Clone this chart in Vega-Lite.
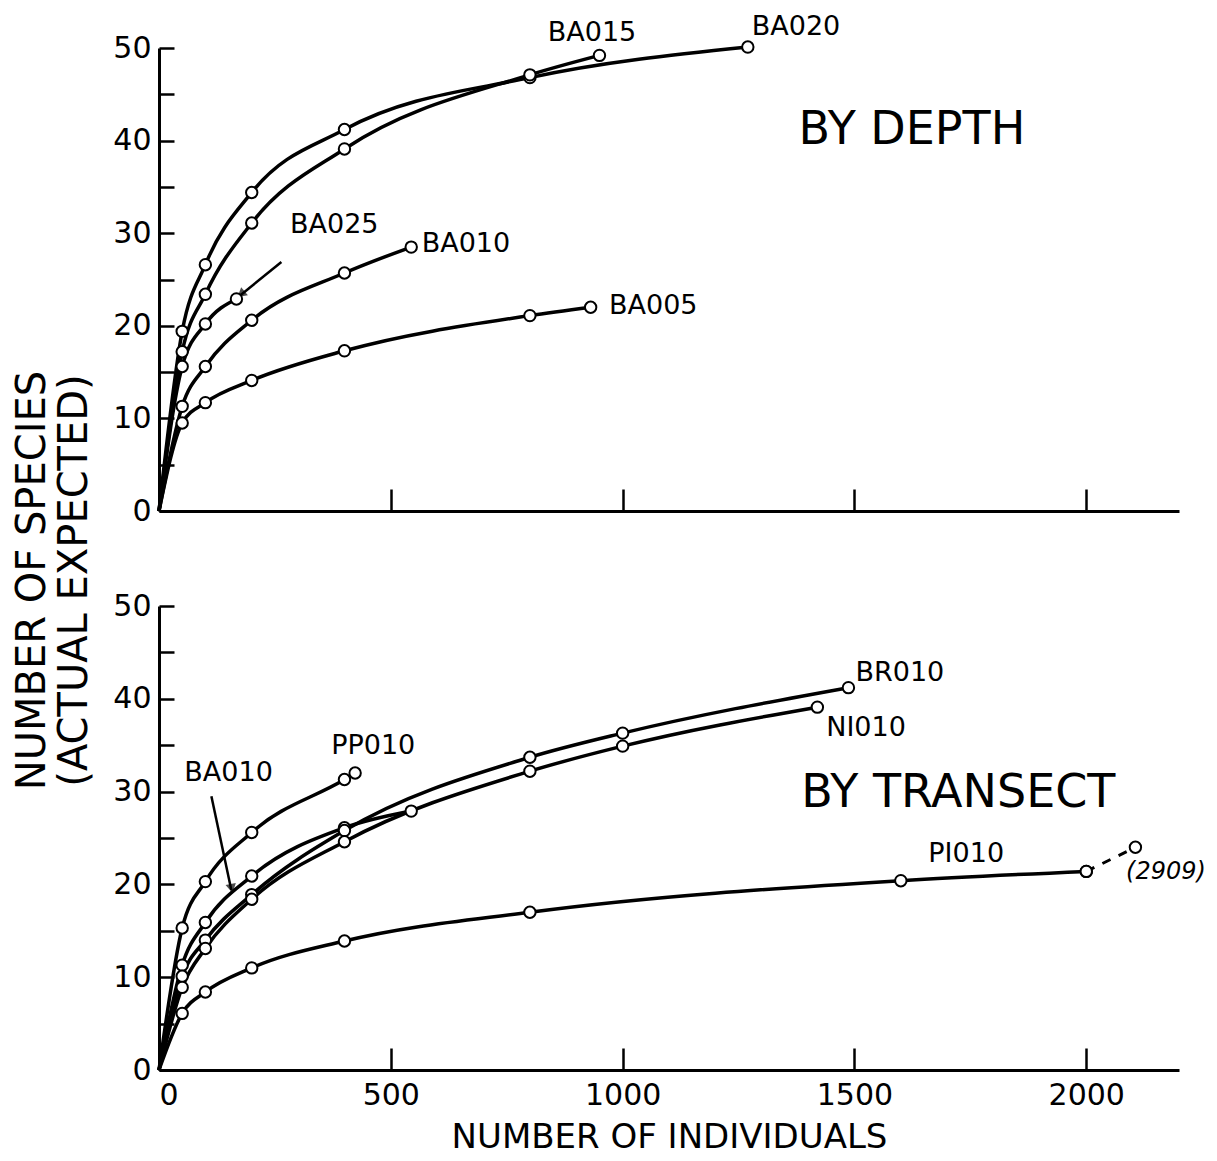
{
  "$schema": "https://vega.github.io/schema/vega-lite/v6.json",
  "background": "white",
  "padding": {"left": 12, "top": 12, "right": 5, "bottom": 3},
  "bounds": "flush",
  "spacing": 95,
  "config": {
    "view": {"stroke": null},
    "font": "DejaVu Sans",
    "axis": {
      "domainColor": "black",
      "domainWidth": 3,
      "tickColor": "black",
      "tickWidth": 2.5,
      "grid": false,
      "labelColor": "black",
      "labelFont": "DejaVu Sans",
      "labelFontSize": 30,
      "titleColor": "black",
      "titleFont": "DejaVu Sans",
      "titleFontWeight": "normal",
      "titleFontSize": 34
    }
  },
  "datasets": {
    "curves": [
      {"panel": "depth", "series": "BA020", "seg": "solid", "x": 0, "y": 0},
      {"panel": "depth", "series": "BA020", "seg": "solid", "x": 50, "y": 19.4},
      {"panel": "depth", "series": "BA020", "seg": "solid", "x": 100, "y": 26.6},
      {"panel": "depth", "series": "BA020", "seg": "solid", "x": 200, "y": 34.4},
      {"panel": "depth", "series": "BA020", "seg": "solid", "x": 400, "y": 41.2},
      {"panel": "depth", "series": "BA020", "seg": "solid", "x": 800, "y": 46.8},
      {"panel": "depth", "series": "BA020", "seg": "solid", "x": 1270, "y": 50.1},
      {"panel": "depth", "series": "BA015", "seg": "solid", "x": 0, "y": 0},
      {"panel": "depth", "series": "BA015", "seg": "solid", "x": 50, "y": 17.2},
      {"panel": "depth", "series": "BA015", "seg": "solid", "x": 100, "y": 23.4},
      {"panel": "depth", "series": "BA015", "seg": "solid", "x": 200, "y": 31.1},
      {"panel": "depth", "series": "BA015", "seg": "solid", "x": 400, "y": 39.1},
      {"panel": "depth", "series": "BA015", "seg": "solid", "x": 800, "y": 47.1},
      {"panel": "depth", "series": "BA015", "seg": "solid", "x": 950, "y": 49.2},
      {"panel": "depth", "series": "BA025", "seg": "solid", "x": 0, "y": 0},
      {"panel": "depth", "series": "BA025", "seg": "solid", "x": 50, "y": 15.6},
      {"panel": "depth", "series": "BA025", "seg": "solid", "x": 100, "y": 20.2},
      {"panel": "depth", "series": "BA025", "seg": "solid", "x": 167, "y": 22.9},
      {"panel": "depth", "series": "BA010", "seg": "solid", "x": 0, "y": 0},
      {"panel": "depth", "series": "BA010", "seg": "solid", "x": 50, "y": 11.3},
      {"panel": "depth", "series": "BA010", "seg": "solid", "x": 100, "y": 15.6},
      {"panel": "depth", "series": "BA010", "seg": "solid", "x": 200, "y": 20.6},
      {"panel": "depth", "series": "BA010", "seg": "solid", "x": 400, "y": 25.7},
      {"panel": "depth", "series": "BA010", "seg": "solid", "x": 544, "y": 28.5},
      {"panel": "depth", "series": "BA005", "seg": "solid", "x": 0, "y": 0},
      {"panel": "depth", "series": "BA005", "seg": "solid", "x": 50, "y": 9.5},
      {"panel": "depth", "series": "BA005", "seg": "solid", "x": 100, "y": 11.7},
      {"panel": "depth", "series": "BA005", "seg": "solid", "x": 200, "y": 14.1},
      {"panel": "depth", "series": "BA005", "seg": "solid", "x": 400, "y": 17.3},
      {"panel": "depth", "series": "BA005", "seg": "solid", "x": 800, "y": 21.1},
      {"panel": "depth", "series": "BA005", "seg": "solid", "x": 931, "y": 22.0},
      {"panel": "transect", "series": "PP010", "seg": "solid", "x": 0, "y": 0},
      {"panel": "transect", "series": "PP010", "seg": "solid", "x": 50, "y": 15.3},
      {"panel": "transect", "series": "PP010", "seg": "solid", "x": 100, "y": 20.3},
      {"panel": "transect", "series": "PP010", "seg": "solid", "x": 200, "y": 25.6},
      {"panel": "transect", "series": "PP010", "seg": "solid", "x": 400, "y": 31.3},
      {"panel": "transect", "series": "PP010", "seg": "solid", "x": 423, "y": 32.0},
      {"panel": "transect", "series": "BA010", "seg": "solid", "x": 0, "y": 0},
      {"panel": "transect", "series": "BA010", "seg": "solid", "x": 50, "y": 11.3},
      {"panel": "transect", "series": "BA010", "seg": "solid", "x": 100, "y": 15.9},
      {"panel": "transect", "series": "BA010", "seg": "solid", "x": 200, "y": 20.9},
      {"panel": "transect", "series": "BA010", "seg": "solid", "x": 400, "y": 26.1},
      {"panel": "transect", "series": "BA010", "seg": "solid", "x": 544, "y": 27.9},
      {"panel": "transect", "series": "BR010", "seg": "solid", "x": 0, "y": 0},
      {"panel": "transect", "series": "BR010", "seg": "solid", "x": 50, "y": 10.1},
      {"panel": "transect", "series": "BR010", "seg": "solid", "x": 100, "y": 14.0},
      {"panel": "transect", "series": "BR010", "seg": "solid", "x": 200, "y": 18.9},
      {"panel": "transect", "series": "BR010", "seg": "solid", "x": 400, "y": 25.8},
      {"panel": "transect", "series": "BR010", "seg": "solid", "x": 800, "y": 33.7},
      {"panel": "transect", "series": "BR010", "seg": "solid", "x": 1000, "y": 36.3},
      {"panel": "transect", "series": "BR010", "seg": "solid", "x": 1487, "y": 41.2},
      {"panel": "transect", "series": "NI010", "seg": "solid", "x": 0, "y": 0},
      {"panel": "transect", "series": "NI010", "seg": "solid", "x": 50, "y": 8.9},
      {"panel": "transect", "series": "NI010", "seg": "solid", "x": 100, "y": 13.1},
      {"panel": "transect", "series": "NI010", "seg": "solid", "x": 200, "y": 18.4},
      {"panel": "transect", "series": "NI010", "seg": "solid", "x": 400, "y": 24.6},
      {"panel": "transect", "series": "NI010", "seg": "solid", "x": 800, "y": 32.2},
      {"panel": "transect", "series": "NI010", "seg": "solid", "x": 1000, "y": 34.9},
      {"panel": "transect", "series": "NI010", "seg": "solid", "x": 1420, "y": 39.1},
      {"panel": "transect", "series": "PI010", "seg": "solid", "x": 0, "y": 0},
      {"panel": "transect", "series": "PI010", "seg": "solid", "x": 50, "y": 6.1},
      {"panel": "transect", "series": "PI010", "seg": "solid", "x": 100, "y": 8.4},
      {"panel": "transect", "series": "PI010", "seg": "solid", "x": 200, "y": 11.0},
      {"panel": "transect", "series": "PI010", "seg": "solid", "x": 400, "y": 13.9},
      {"panel": "transect", "series": "PI010", "seg": "solid", "x": 800, "y": 17.0},
      {"panel": "transect", "series": "PI010", "seg": "solid", "x": 1600, "y": 20.4},
      {"panel": "transect", "series": "PI010", "seg": "solid", "x": 2000, "y": 21.4},
      {"panel": "transect", "series": "PI010-2909", "seg": "dash", "x": 2000, "y": 21.4},
      {"panel": "transect", "series": "PI010-2909", "seg": "dash", "x": 2106, "y": 24.0}
    ],
    "labels": [
      {"panel": "depth", "kind": "series", "text": "BA015", "x": 934, "y": 51.6},
      {"panel": "depth", "kind": "series", "text": "BA020", "x": 1374, "y": 52.3},
      {"panel": "depth", "kind": "series", "text": "BA025", "x": 378, "y": 30.9},
      {"panel": "depth", "kind": "series", "text": "BA010", "x": 662, "y": 28.8},
      {"panel": "depth", "kind": "series", "text": "BA005", "x": 1066, "y": 22.1},
      {"panel": "depth", "kind": "title", "text": "BY DEPTH", "x": 1624, "y": 41.1},
      {"panel": "transect", "kind": "series", "text": "BR010", "x": 1598, "y": 42.8},
      {"panel": "transect", "kind": "series", "text": "NI010", "x": 1525, "y": 36.9},
      {"panel": "transect", "kind": "series", "text": "PP010", "x": 462, "y": 34.9},
      {"panel": "transect", "kind": "series", "text": "BA010", "x": 150, "y": 32.0},
      {"panel": "transect", "kind": "title", "text": "BY TRANSECT", "x": 1724, "y": 29.8},
      {"panel": "transect", "kind": "series", "text": "PI010", "x": 1741, "y": 23.3},
      {"panel": "transect", "kind": "note", "text": "(2909)", "x": 2172, "y": 21.3}
    ],
    "arrows": [
      {"panel": "depth", "x": 264, "y": 26.9, "x2": 173, "y2": 23.2},
      {"panel": "transect", "x": 113, "y": 29.5, "x2": 156, "y2": 19.4}
    ]
  },
  "vconcat": [
    {
      "width": 1020,
      "height": 463,
      "layer": [
        {
          "data": {"name": "curves"},
          "transform": [{"filter": "datum.panel == 'depth'"}],
          "mark": {"type": "line", "interpolate": "monotone", "color": "black", "strokeWidth": 3.5},
          "encoding": {
            "x": {"field": "x", "type": "quantitative", "scale": {"domain": [0, 2200], "nice": false},
              "axis": {"values": [500, 1000, 1500, 2000], "labels": false, "tickSize": -22, "title": null}},
            "y": {"field": "y", "type": "quantitative", "scale": {"domain": [0, 50], "nice": false},
              "axis": {"values": [0, 5, 10, 15, 20, 25, 30, 35, 40, 45, 50], "tickSize": -15, "labelPadding": 23,
                "labelExpr": "datum.value % 10 == 0 ? datum.label : ''", "title": null}},
            "detail": {"field": "series"}
          }
        },
        {
          "data": {"name": "arrows"},
          "transform": [{"filter": "datum.panel == 'depth'"}],
          "mark": {"type": "rule", "color": "black", "strokeWidth": 2.5},
          "encoding": {
            "x": {"field": "x", "type": "quantitative"},
            "y": {"field": "y", "type": "quantitative"},
            "x2": {"field": "x2"},
            "y2": {"field": "y2"}
          }
        },
        {
          "data": {"name": "arrows"},
          "transform": [{"filter": "datum.panel == 'depth'"}],
          "mark": {"type": "point", "shape": "triangle", "filled": true, "color": "black", "size": 110, "angle": 230, "yOffset": -3, "xOffset": 3},
          "encoding": {
            "x": {"field": "x2", "type": "quantitative"},
            "y": {"field": "y2", "type": "quantitative"}
          }
        },
        {
          "data": {"name": "curves"},
          "transform": [{"filter": "datum.panel == 'depth' && datum.x > 0"}],
          "mark": {"type": "point", "shape": "circle", "filled": true, "fill": "white", "stroke": "black", "strokeWidth": 2, "size": 130, "opacity": 1},
          "encoding": {
            "x": {"field": "x", "type": "quantitative"},
            "y": {"field": "y", "type": "quantitative"}
          }
        },
        {
          "data": {"name": "labels"},
          "transform": [{"filter": "datum.panel == 'depth' && datum.kind == 'series'"}],
          "mark": {"type": "text", "font": "DejaVu Sans", "fontSize": 27, "color": "black", "align": "center", "baseline": "middle"},
          "encoding": {
            "x": {"field": "x", "type": "quantitative"},
            "y": {"field": "y", "type": "quantitative"},
            "text": {"field": "text"}
          }
        },
        {
          "data": {"name": "labels"},
          "transform": [{"filter": "datum.panel == 'depth' && datum.kind == 'title'"}],
          "mark": {"type": "text", "font": "DejaVu Sans", "fontSize": 46, "color": "black", "align": "center", "baseline": "middle"},
          "encoding": {
            "x": {"field": "x", "type": "quantitative"},
            "y": {"field": "y", "type": "quantitative"},
            "text": {"field": "text"}
          }
        }
      ]
    },
    {
      "width": 1020,
      "height": 464,
      "layer": [
        {
          "data": {"name": "curves"},
          "transform": [{"filter": "datum.panel == 'transect' && datum.seg == 'solid'"}],
          "mark": {"type": "line", "interpolate": "monotone", "color": "black", "strokeWidth": 3.5},
          "encoding": {
            "x": {"field": "x", "type": "quantitative", "scale": {"domain": [0, 2200], "nice": false},
              "axis": {"values": [0, 500, 1000, 1500, 2000], "format": "d", "tickSize": -22, "labelPadding": 32, "title": "NUMBER OF INDIVIDUALS", "titlePadding": 10}},
            "y": {"field": "y", "type": "quantitative", "scale": {"domain": [0, 50], "nice": false},
              "axis": {"values": [0, 5, 10, 15, 20, 25, 30, 35, 40, 45, 50], "tickSize": -15, "labelPadding": 23,
                "labelExpr": "datum.value % 10 == 0 ? datum.label : ''",
                "title": ["NUMBER OF SPECIES", "(ACTUAL EXPECTED)"],
                "titleX": -127, "titleY": -26, "titleAlign": "center", "titleBaseline": "middle", "titleAngle": -90, "titleLineHeight": 42, "titleFontSize": 40}},
            "detail": {"field": "series"}
          }
        },
        {
          "data": {"name": "curves"},
          "transform": [{"filter": "datum.panel == 'transect' && datum.seg == 'dash'"}],
          "mark": {"type": "line", "color": "black", "strokeWidth": 3, "strokeDash": [9, 9]},
          "encoding": {
            "x": {"field": "x", "type": "quantitative"},
            "y": {"field": "y", "type": "quantitative"},
            "detail": {"field": "series"}
          }
        },
        {
          "data": {"name": "arrows"},
          "transform": [{"filter": "datum.panel == 'transect'"}],
          "mark": {"type": "rule", "color": "black", "strokeWidth": 2.5},
          "encoding": {
            "x": {"field": "x", "type": "quantitative"},
            "y": {"field": "y", "type": "quantitative"},
            "x2": {"field": "x2"},
            "y2": {"field": "y2"}
          }
        },
        {
          "data": {"name": "arrows"},
          "transform": [{"filter": "datum.panel == 'transect'"}],
          "mark": {"type": "point", "shape": "triangle", "filled": true, "color": "black", "size": 110, "angle": 168, "yOffset": -3},
          "encoding": {
            "x": {"field": "x2", "type": "quantitative"},
            "y": {"field": "y2", "type": "quantitative"}
          }
        },
        {
          "data": {"name": "curves"},
          "transform": [{"filter": "datum.panel == 'transect' && datum.x > 0"}],
          "mark": {"type": "point", "shape": "circle", "filled": true, "fill": "white", "stroke": "black", "strokeWidth": 2, "size": 130, "opacity": 1},
          "encoding": {
            "x": {"field": "x", "type": "quantitative"},
            "y": {"field": "y", "type": "quantitative"}
          }
        },
        {
          "data": {"name": "labels"},
          "transform": [{"filter": "datum.panel == 'transect' && datum.kind == 'series'"}],
          "mark": {"type": "text", "font": "DejaVu Sans", "fontSize": 27, "color": "black", "align": "center", "baseline": "middle"},
          "encoding": {
            "x": {"field": "x", "type": "quantitative"},
            "y": {"field": "y", "type": "quantitative"},
            "text": {"field": "text"}
          }
        },
        {
          "data": {"name": "labels"},
          "transform": [{"filter": "datum.panel == 'transect' && datum.kind == 'note'"}],
          "mark": {"type": "text", "font": "DejaVu Sans", "fontSize": 24, "fontStyle": "italic", "color": "black", "align": "center", "baseline": "middle"},
          "encoding": {
            "x": {"field": "x", "type": "quantitative"},
            "y": {"field": "y", "type": "quantitative"},
            "text": {"field": "text"}
          }
        },
        {
          "data": {"name": "labels"},
          "transform": [{"filter": "datum.panel == 'transect' && datum.kind == 'title'"}],
          "mark": {"type": "text", "font": "DejaVu Sans", "fontSize": 46, "color": "black", "align": "center", "baseline": "middle"},
          "encoding": {
            "x": {"field": "x", "type": "quantitative"},
            "y": {"field": "y", "type": "quantitative"},
            "text": {"field": "text"}
          }
        }
      ]
    }
  ]
}
